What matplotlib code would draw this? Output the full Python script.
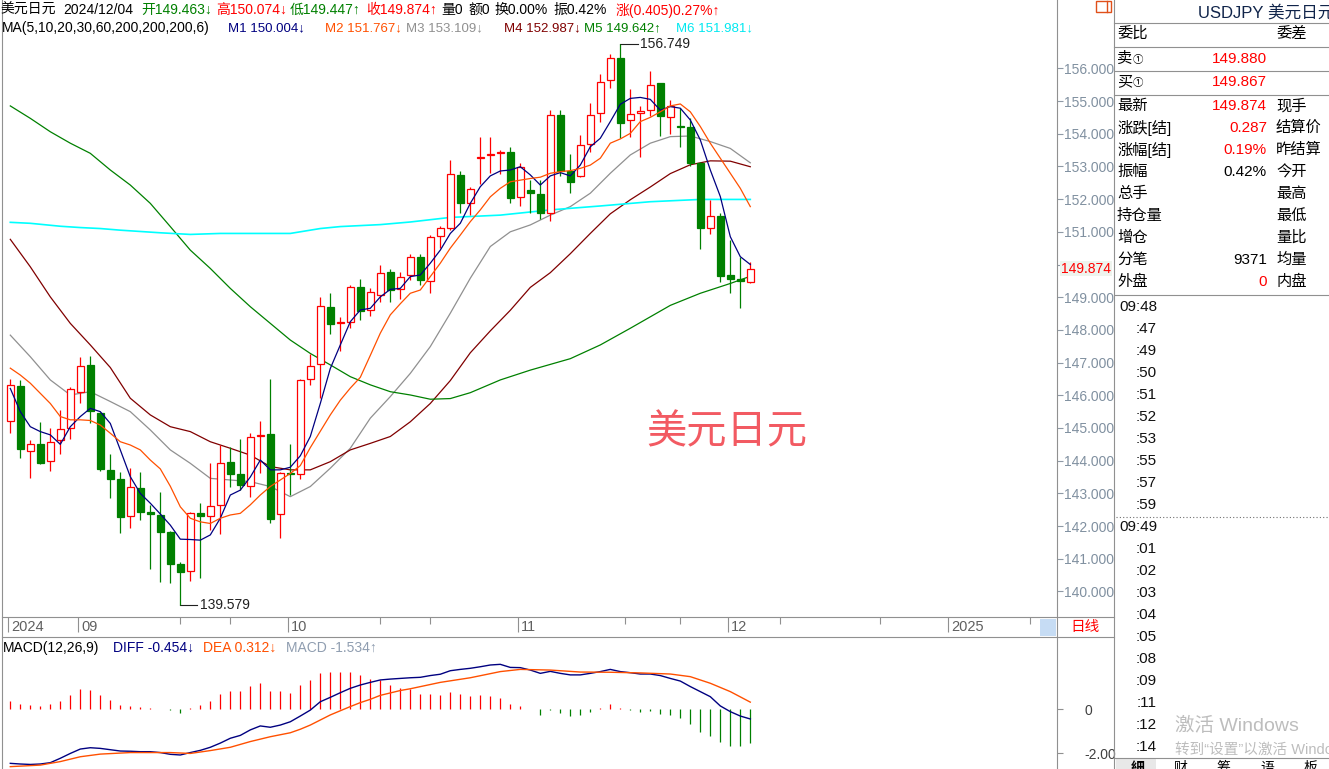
import numpy as np
import matplotlib
matplotlib.use('Agg')
import matplotlib.pyplot as plt
from matplotlib.patches import Rectangle
from matplotlib.lines import Line2D
from matplotlib.ticker import FixedFormatter

plt.rcParams['font.family'] = ['Liberation Sans', 'Noto Sans CJK SC', 'DejaVu Sans']

# 美元日元 日K线 (2024-08-22 ~ 2024-12-04), 从截图读取
opens = [145.20, 146.29, 144.30, 144.50, 143.99, 144.63, 144.99, 146.09, 146.93, 145.45,
         143.72, 143.44, 142.30, 143.17, 142.43, 142.35, 141.82, 140.84, 140.63, 142.39,
         142.30, 142.63, 143.95, 143.58, 143.24, 144.77, 144.82, 142.37, 143.63, 143.58,
         146.50, 146.95, 148.70, 148.20, 148.23, 149.30, 148.60, 149.06, 149.76, 149.24,
         149.67, 150.23, 149.51, 150.87, 151.11, 152.74, 151.87, 153.27, 153.35, 153.40,
         153.45, 152.05, 152.28, 152.16, 151.56, 154.57, 152.87, 152.71, 153.68, 154.62,
         155.64, 156.31, 154.42, 154.62, 154.71, 155.54, 154.52, 154.24, 154.19, 153.09,
         151.13, 151.48, 149.68, 149.55, 149.463]
highs = [146.51, 146.47, 144.63, 145.17, 145.01, 145.55, 146.26, 147.18, 147.20, 145.50,
         144.19, 143.66, 143.79, 143.65, 142.63, 143.04, 141.84, 140.91, 142.44, 142.70,
         143.92, 144.47, 144.42, 144.67, 144.85, 145.21, 146.49, 143.66, 144.51, 146.49,
         147.26, 149.00, 149.14, 148.40, 149.37, 149.55, 149.27, 149.99, 149.86, 149.77,
         150.32, 150.31, 150.90, 151.19, 153.20, 152.87, 152.38, 153.91, 153.91, 153.50,
         153.60, 153.11, 152.58, 152.58, 154.73, 154.73, 153.37, 153.96, 154.93, 155.82,
         156.44, 156.749, 155.36, 154.85, 155.92, 155.56, 155.03, 154.78, 154.47, 153.14,
         151.97, 151.57, 150.75, 150.24, 150.074]
lows = [144.85, 144.07, 143.46, 143.90, 143.70, 144.22, 144.66, 145.76, 145.14, 143.70,
        142.85, 141.78, 141.95, 142.19, 140.70, 140.28, 140.27, 139.579, 140.31, 140.42,
        141.88, 141.75, 143.20, 143.11, 142.90, 143.62, 142.08, 141.65, 142.95, 143.43,
        146.30, 145.93, 147.86, 147.37, 148.05, 148.30, 148.41, 148.86, 148.86, 148.95,
        149.53, 149.37, 149.12, 150.51, 151.04, 151.59, 151.51, 152.45, 152.79, 152.77,
        151.87, 151.79, 151.56, 151.38, 151.34, 152.71, 152.18, 152.69, 153.45, 154.37,
        155.39, 153.88, 153.89, 153.30, 154.54, 153.93, 153.99, 153.58, 153.01, 150.47,
        150.93, 149.48, 149.12, 148.66, 149.447]
closes = [146.31, 144.37, 144.50, 143.94, 144.56, 144.96, 146.18, 146.89, 145.52, 143.74,
          143.45, 142.29, 143.20, 142.44, 142.36, 141.83, 140.83, 140.61, 142.39, 142.30,
          142.60, 143.92, 143.60, 143.25, 144.74, 144.80, 142.22, 143.61, 143.58, 146.47,
          146.91, 148.73, 148.19, 148.24, 149.30, 148.59, 149.15, 149.73, 149.22, 149.63,
          150.22, 149.53, 150.83, 151.11, 152.77, 151.87, 152.30, 153.29, 153.38, 153.43,
          152.04, 152.99, 152.18, 151.56, 154.57, 152.86, 152.53, 153.65, 154.57, 155.59,
          156.31, 154.32, 154.60, 154.70, 155.49, 154.55, 154.85, 154.20, 153.09, 151.13,
          151.48, 149.65, 149.57, 149.50, 149.874]

# 均线
ma5 = [146.21, 145.50, 145.04, 144.89, 144.79, 144.50, 145.04, 145.35, 145.60, 145.50,
       145.14, 144.33, 143.51, 143.00, 142.70, 142.37, 142.03, 141.60, 141.59, 141.57,
       141.73, 142.24, 142.95, 143.10, 143.50, 144.02, 143.72, 143.72, 143.80, 144.15,
       144.74, 145.75, 146.82, 147.54, 148.25, 148.61, 148.66, 149.01, 149.24, 149.27,
       149.63, 149.68, 150.04, 150.44, 150.95, 151.26, 151.87, 152.38, 152.71, 152.86,
       152.89, 152.99, 152.74, 152.43, 152.71, 152.81, 152.71, 153.04, 153.60, 153.86,
       154.37, 154.90, 155.08, 155.11, 155.05, 154.72, 154.83, 154.78, 154.42, 153.81,
       152.89, 152.08, 150.85, 150.24, 150.00]
ma10 = [146.83, 146.62, 146.37, 146.06, 145.75, 145.35, 145.25, 145.25, 145.23, 145.09,
        144.84, 144.58, 144.48, 144.33, 144.02, 143.75, 143.22, 142.59, 142.24, 142.13,
        142.08, 142.24, 142.34, 142.39, 142.65, 142.95, 143.21, 143.41, 143.61, 143.85,
        144.40, 144.90, 145.40, 145.85, 146.22, 146.55, 147.22, 147.90, 148.46, 148.80,
        149.12, 149.22, 149.63, 150.04, 150.50, 150.90, 151.31, 151.67, 152.07, 152.33,
        152.53, 152.58, 152.63, 152.67, 152.79, 152.84, 152.87, 152.94, 153.04, 153.25,
        153.71, 153.84, 154.01, 154.37, 154.50, 154.67, 154.85, 154.91, 154.67, 154.22,
        153.71, 153.25, 152.79, 152.33, 151.77]
ma20_idx = list(range(0, 75, 2))
ma20 = [147.84, 147.18, 146.47, 146.01, 146.11, 145.81, 145.50, 144.94, 144.33, 143.92,
        143.46, 143.41, 143.36, 143.21, 142.90, 143.21, 143.77, 144.38, 145.30, 145.96,
        146.67, 147.49, 148.51, 149.58, 150.55, 151.00, 151.21, 151.51, 151.77, 152.18,
        152.79, 153.35, 153.71, 153.91, 153.93, 153.76, 153.55, 153.11]
ma30_idx = list(range(0, 75, 2))
ma30 = [150.77, 149.93, 149.01, 148.20, 147.54, 146.85, 145.91, 145.40, 145.04, 144.89,
        144.58, 144.38, 144.17, 143.82, 143.72, 143.72, 143.97, 144.33, 144.53, 144.74,
        145.19, 145.75, 146.45, 147.30, 147.97, 148.60, 149.30, 149.75, 150.33, 150.95,
        151.55, 151.98, 152.37, 152.78, 153.05, 153.17, 153.16, 152.99]
ma60_idx = list(range(0, 41, 2)) + [42, 44, 46, 49, 52, 56, 59, 62, 66, 69, 72, 74]
ma60 = [154.85, 154.47, 154.06, 153.71, 153.40, 152.89, 152.43, 151.87, 151.16, 150.44,
        149.88, 149.27, 148.71, 148.20, 147.69, 147.28, 146.93, 146.57, 146.32, 146.11,
        146.01, 145.88, 145.90, 146.08, 146.47, 146.77, 147.12, 147.54, 148.05, 148.75,
        149.12, 149.42, 149.64]
ma200_idx = [0, 2, 5, 7, 9, 11, 15, 18, 21, 28, 31, 33, 37, 40, 44, 49, 54, 59, 64, 69, 74]
ma200 = [151.29, 151.26, 151.17, 151.13, 151.10, 151.05, 150.97, 150.92, 150.95, 150.95,
         151.10, 151.16, 151.22, 151.30, 151.44, 151.51, 151.67, 151.79, 151.92, 151.99, 151.99]

# MACD(12,26,9)
diff = [-2.47, -2.50, -2.52, -2.50, -2.44, -2.24, -2.02, -1.82, -1.76, -1.79,
        -1.85, -1.91, -1.92, -1.94, -1.94, -1.98, -2.06, -2.09, -1.98, -1.88,
        -1.74, -1.55, -1.33, -1.20, -0.95, -0.77, -0.83, -0.73, -0.58, -0.32,
        -0.05, 0.33, 0.53, 0.74, 0.94, 1.09, 1.21, 1.32, 1.36, 1.39,
        1.42, 1.44, 1.52, 1.58, 1.74, 1.80, 1.85, 1.92, 2.00, 2.03,
        1.89, 1.88, 1.77, 1.62, 1.71, 1.62, 1.55, 1.55, 1.62, 1.70,
        1.80, 1.70, 1.65, 1.59, 1.59, 1.52, 1.39, 1.27, 1.02, 0.79,
        0.56, 0.14, -0.12, -0.32, -0.454]
dea_idx = [0, 3, 5, 7, 9, 12, 16, 18, 20, 22, 24, 26, 28, 29, 30, 31, 32, 33, 34, 35,
           36, 37, 38, 39, 40, 43, 46, 49, 51, 54, 57, 60, 63, 66, 68, 70, 72, 74]
dea = [-2.62, -2.55, -2.39, -2.17, -2.05, -1.98, -1.98, -2.02, -1.89, -1.74,
       -1.48, -1.26, -1.08, -0.92, -0.73, -0.50, -0.27, -0.08, 0.11, 0.29,
       0.44, 0.62, 0.73, 0.84, 0.92, 1.21, 1.42, 1.70, 1.80, 1.77,
       1.68, 1.67, 1.64, 1.59, 1.47, 1.17, 0.79, 0.312]
macd_hist = [0.36, 0.23, 0.18, 0.14, 0.23, 0.36, 0.64, 0.89, 0.86, 0.64,
             0.41, 0.18, 0.14, 0.08, 0.03, 0.01, -0.05, -0.17, 0.03, 0.18,
             0.36, 0.68, 0.82, 0.82, 1.05, 1.17, 0.82, 0.82, 0.74, 1.09,
             1.32, 1.65, 1.70, 1.67, 1.70, 1.55, 1.35, 1.32, 1.10, 0.96,
             0.90, 0.68, 0.68, 0.64, 0.77, 0.68, 0.59, 0.62, 0.59, 0.50,
             0.23, 0.14, -0.02, -0.27, -0.05, -0.17, -0.30, -0.26, -0.14, 0.05,
             0.23, 0.05, -0.05, -0.12, -0.09, -0.21, -0.26, -0.41, -0.67, -1.03,
             -1.23, -1.48, -1.67, -1.67, -1.534]

# 日期轴
month_idx = [0, 7, 28, 51, 72, 94]
month_labels = ['2024', '09', '10', '11', '12', '2025']
minor_idx = [17, 22, 37, 42, 61.5, 67, 77, 87, 102]

price_ticks = list(range(140, 157))
last_price = 149.874

RED = '#FF0000'
GREEN = '#008000'
MA_COLORS = ['#000080', '#FF5000', '#909090', '#800000', '#008000', '#00FFFF']
LINE = '#909090'

W, H = 1329, 769
fig = plt.figure(figsize=(W / 100, H / 100), dpi=100)


def px_ax(x0, y0, x1, y1):
    a = fig.add_axes([x0 / W, 1 - y1 / H, (x1 - x0) / W, (y1 - y0) / H])
    for s in a.spines.values():
        s.set_visible(False)
    return a


def fline(xs, ys, **kw):
    kw.setdefault('color', LINE)
    kw.setdefault('lw', 0.8)
    fig.add_artist(Line2D([x / W for x in xs], [1 - y / H for y in ys], **kw))


def ftext(x, y, s, **kw):
    kw.setdefault('va', 'center')
    fig.text(x / W, 1 - y / H, s, **kw)


# ---------- 主图 ----------
ax = px_ax(2, 0, 1057, 617)
ax.set_xlim(-0.83, 104.67)
ax.set_ylim(139.22, 158.089)

n = len(closes)
for i in range(n):
    o, h, l, c = opens[i], highs[i], lows[i], closes[i]
    up = c >= o
    col = RED if up else GREEN
    top, bot = max(o, c), min(o, c)
    ax.vlines(i, top, h, color=col, lw=0.9, zorder=3)
    ax.vlines(i, l, bot, color=col, lw=0.9, zorder=3)
    ax.add_patch(Rectangle((i - 0.35, bot), 0.7, max(top - bot, 0.02),
                           facecolor='white' if up else col, edgecolor=col,
                           lw=0.9, zorder=4))

ax.plot(range(n), ma5, color=MA_COLORS[0], lw=0.9, zorder=5)
ax.plot(range(n), ma10, color=MA_COLORS[1], lw=0.9, zorder=5)
ax.plot(ma20_idx, ma20, color=MA_COLORS[2], lw=0.9, zorder=2)
ax.plot(ma30_idx, ma30, color=MA_COLORS[3], lw=0.9, zorder=2)
ax.plot(ma60_idx, ma60, color=MA_COLORS[4], lw=0.9, zorder=2)
ax.plot(ma200_idx, ma200, color=MA_COLORS[5], lw=1.2, zorder=2)

# 最高 / 最低 标注
hi = int(np.argmax(highs))
lo = int(np.argmin(lows))
ax.plot([hi, hi + 1.8], [highs[hi], highs[hi]], color='#202020', lw=0.8)
ax.text(hi + 2.0, highs[hi], f'{highs[hi]:.3f}', fontsize=10, color='#202020', va='center')
ax.plot([lo, lo + 1.7], [lows[lo], lows[lo]], color='#202020', lw=0.8)
ax.text(lo + 2.0, lows[lo], f'{lows[lo]:.3f}', fontsize=10, color='#202020', va='center')

ax.set_xticks([])
ax.set_yticks(price_ticks)
ax.yaxis.tick_right()
# 150.000 被当前价标签盖住
ax.yaxis.set_major_formatter(FixedFormatter(
    ['' if abs(t - last_price) < 0.5 else f'{t:.3f}' for t in price_ticks]))
ax.tick_params(axis='y', length=4, width=0.8, color='#8f9aa6', labelcolor='#8090a0',
               labelsize=10, pad=1)
ax.text(1.0 + 4 / 1055, last_price, f'{last_price:.3f}', transform=ax.get_yaxis_transform(),
        fontsize=10, color=RED, va='center', ha='left', clip_on=False, zorder=10,
        bbox=dict(facecolor='#eef4ee', edgecolor='none', pad=0.6))

# 水印
ftext(727, 432, '美元日元', fontsize=29, color='#F25A62', ha='center',
      family=['Noto Sans CJK SC'])

# 标题行
head1 = [(0, '美元日元', 'black'), (63, '2024/12/04', 'black'), (141, '开149.463↓', GREEN),
         (216, '高150.074↓', RED), (290, '低149.447↑', GREEN), (366, '收149.874↑', RED),
         (441, '量0', 'black'), (468, '额0', 'black'), (494, '换0.00%', 'black'),
         (553, '振0.42%', 'black'), (616, '涨(0.405)0.27%↑', RED)]
for x, s, c in head1:
    ftext(x, 10, s, fontsize=10, color=c)
ftext(2, 28, 'MA(5,10,20,30,60,200,200,200,6)', fontsize=10, color='black')
head2 = [(228, 'M1 150.004↓', MA_COLORS[0]), (325, 'M2 151.767↓', MA_COLORS[1]),
         (406, 'M3 153.109↓', MA_COLORS[2]), (504, 'M4 152.987↓', MA_COLORS[3]),
         (584, 'M5 149.642↑', MA_COLORS[4]), (676, 'M6 151.981↓', '#00E8F0')]
for x, s, c in head2:
    ftext(x, 28, s, fontsize=9.5, color=c)

# ---------- 日期轴 ----------
axd = px_ax(2, 617, 1057, 637)
axd.set_xlim(-0.83, 104.67)
axd.set_ylim(20, 0)
axd.set_xticks([])
axd.set_yticks([])
for m, lab in zip(month_idx, month_labels):
    axd.vlines(m - 0.2, 0, 15, color=LINE, lw=0.8)
    axd.text(m + 0.1, 10, lab, fontsize=10.5, color='#606060', va='center', ha='left')
axd.vlines(minor_idx, 0, 7, color=LINE, lw=0.8)
fig.add_artist(Rectangle((1040 / W, 1 - 636 / H), 16 / W, 17 / H, facecolor='#c6dcf4',
                         edgecolor='none', transform=fig.transFigure))
ftext(1070, 627, '日线', fontsize=10.5, color=RED)

# ---------- MACD ----------
axm = px_ax(2, 638, 1057, 769)
axm.set_xlim(-0.83, 104.67)
axm.set_ylim(-2.727, 3.227)
bar_colors = [RED if v > 0 else GREEN for v in macd_hist]
axm.vlines(range(n), 0, macd_hist, colors=bar_colors, lw=0.9, zorder=2)
axm.plot(range(n), diff, color='#000080', lw=1.0, zorder=3)
axm.plot(dea_idx, dea, color='#FF5000', lw=1.0, zorder=3)
axm.set_xticks([])
axm.set_yticks([0, -2])
axm.set_yticklabels(['0', '-2.00'])
axm.yaxis.tick_right()
axm.tick_params(axis='y', length=4, width=0.8, color=LINE, labelcolor='#404040',
                labelsize=10, pad=16)
head3 = [(3, 'MACD(12,26,9)', 'black'), (113, 'DIFF -0.454↓', '#000080'),
         (203, 'DEA 0.312↓', '#FF5000'), (286, 'MACD -1.534↑', '#8f9db0')]
for x, s, c in head3:
    ftext(x, 648, s, fontsize=10, color=c)

# ---------- 边框线 ----------
fline([2, 2], [0, 769])
fline([1057, 1057], [0, 769])
fline([1114, 1114], [0, 769])
fline([2, 1114], [617, 617])
fline([2, 1114], [637, 637])
fig.add_artist(Rectangle((1096 / W, 1 - 12 / H), 15 / W, 11 / H, facecolor='none',
                         edgecolor='#E0501A', lw=1.0, transform=fig.transFigure))
fline([1107, 1107], [1, 12], color='#E0501A', lw=1.0)

# ---------- 右侧报价栏 ----------
PX = 11
ftext(1198, 12, 'USDJPY 美元日元(', fontsize=12, color='#10244a')
for yy in [23, 47, 71, 95, 295]:
    fline([1114, 1329], [yy, yy])
ftext(1117, 34, '委比', fontsize=PX)
ftext(1276, 34, '委差', fontsize=PX)
for yy, lab, val in [(59, '卖', '149.880'), (82, '买', '149.867')]:
    ftext(1117, yy, lab, fontsize=PX)
    ftext(1133, yy + 1, '①', fontsize=7.5, family=['Noto Sans CJK SC'])
    ftext(1267, yy, val, fontsize=PX, color=RED, ha='right')

row_left = ['最新', '涨跌[结]', '涨幅[结]', '振幅', '总手', '持仓量', '增仓', '分笔', '外盘']
row_vals = ['149.874', '0.287', '0.19%', '0.42%', '', '', '', '9371', '0']
row_val_colors = [RED, RED, RED, 'black', 'black', 'black', 'black', 'black', RED]
row_right = ['现手', '结算价', '昨结算', '今开', '最高', '最低', '量比', '均量', '内盘']
for k, (a, v, vc, b) in enumerate(zip(row_left, row_vals, row_val_colors, row_right)):
    yy = 106 + 22 * k
    ftext(1117, yy, a, fontsize=PX)
    ftext(1267, yy, v, fontsize=PX, color=vc, ha='right')
    ftext(1276, yy, b, fontsize=PX)

ticks_time = ['09:48', ':47', ':49', ':50', ':51', ':52', ':53', ':55', ':57', ':59',
              '09:49', ':01', ':02', ':03', ':04', ':05', ':08', ':09', ':11', ':12', ':14']
for k, t in enumerate(ticks_time):
    ftext(1157, 307 + 22 * k, t, fontsize=PX, ha='right', color='#101010')
fline([1116, 1329], [517, 517], ls=(0, (1, 2)), color='#707070')

ftext(1175, 726, '激活 Windows', fontsize=14, color='#bdbdbd')
ftext(1175, 750, '转到“设置”以激活 Windows。', fontsize=10.5, color='#bdbdbd')

fline([1114, 1329], [758, 758])
fig.add_artist(Rectangle((1116 / W, 0), 40 / W, 11 / H, facecolor='#e8e8e8',
                         edgecolor='none', transform=fig.transFigure))
for x, s in [(1138, '細'), (1180, '财'), (1223, '筹'), (1267, '语'), (1310, '板')]:
    ftext(x, 768, s, fontsize=10, ha='center', fontweight='bold' if s == '細' else 'normal')

fig.savefig('out.png', dpi=100, facecolor='white')
